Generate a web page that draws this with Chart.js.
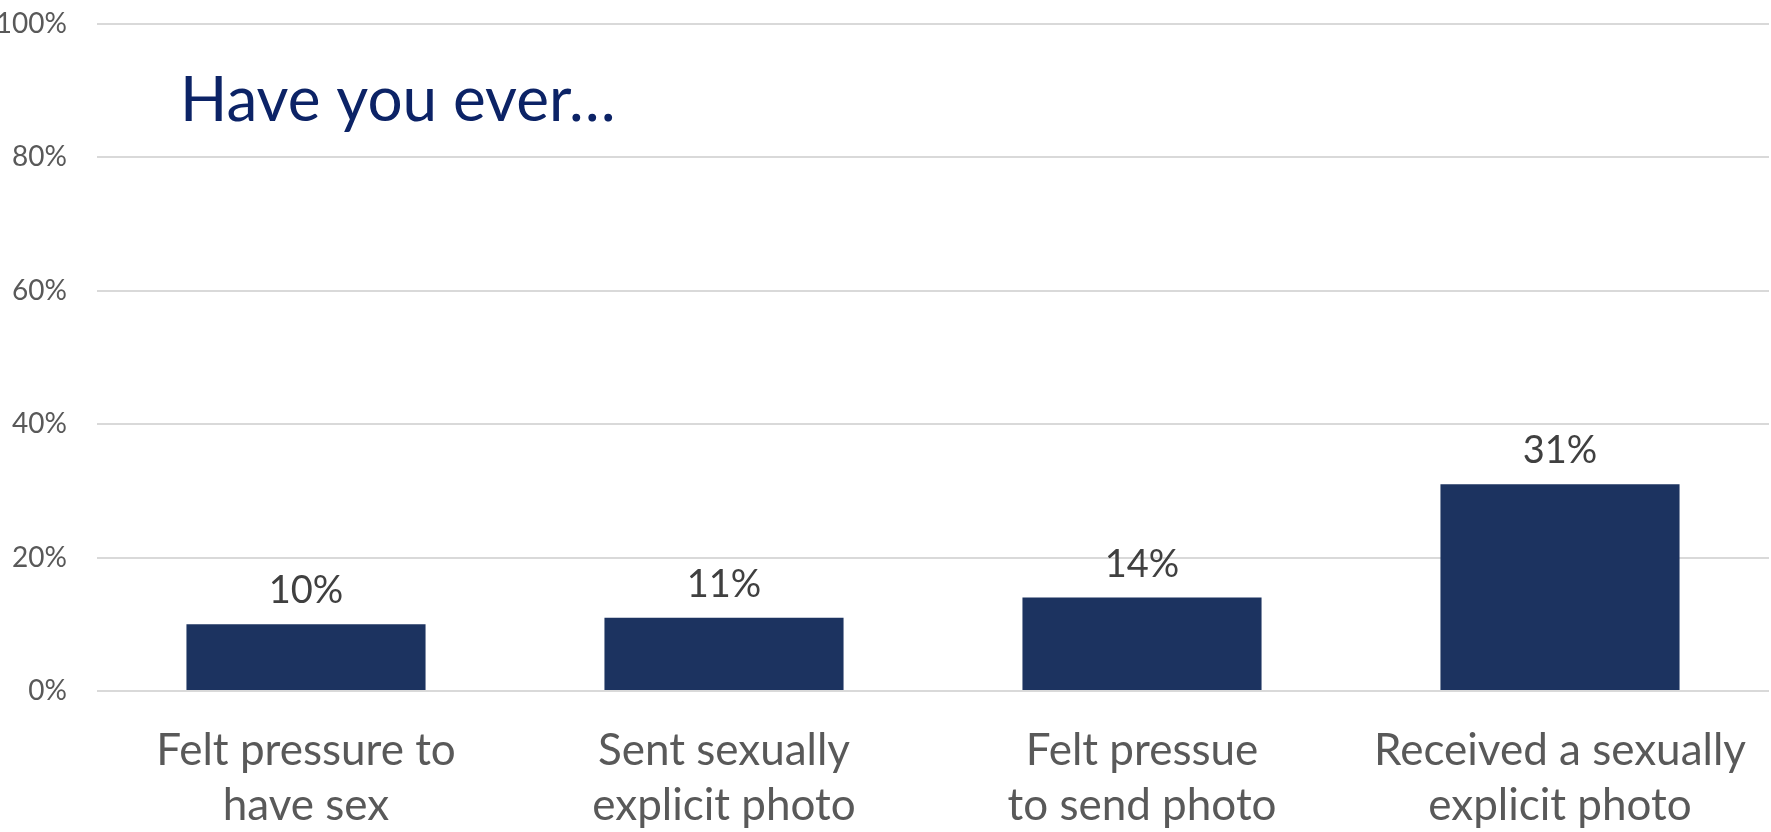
<!DOCTYPE html>
<html>
<head>
<meta charset="utf-8">
<script src="https://cdn.jsdelivr.net/npm/chart.js@4"></script>
<style>
  html, body { margin: 0; padding: 0; background: #fff; }
  #wrap { width: 1771px; height: 832px; }
</style>
</head>
<body>
<div id="wrap"><canvas id="bars" width="1771" height="832"></canvas></div>
<script>
const categories = [
  ['Felt pressure to', 'have sex'],
  ['Sent sexually', 'explicit photo'],
  ['Felt pressue', 'to send photo'],
  ['Received a sexually', 'explicit photo']
]
const shares = [10, 11, 14, 31]
const yTicks = [0, 20, 40, 60, 80, 100]
const heading = 'Have you ever\u2026'

const FONT = 'Lato, "Open Sans", sans-serif'

// value labels above each bar
const barLabels = {
  id: 'barLabels',
  afterDatasetsDraw(chart) {
    const ctx = chart.ctx
    const meta = chart.getDatasetMeta(0)
    ctx.save()
    ctx.font = '38px ' + FONT
    ctx.fillStyle = '#404040'
    ctx.textAlign = 'center'
    ctx.textBaseline = 'alphabetic'
    meta.data.forEach((bar, i) => {
      ctx.fillText(shares[i] + '%', bar.x, bar.y - 21)
    })
    ctx.restore()
  }
}

// heading sits inside the plot area, top left
const heading_ = {
  id: 'heading',
  afterDraw(chart) {
    const ctx = chart.ctx
    ctx.save()
    ctx.font = '62px ' + FONT
    ctx.fillStyle = '#0c2366'
    ctx.textAlign = 'left'
    ctx.textBaseline = 'alphabetic'
    ctx.fillText(heading, chart.chartArea.left + 83, 121)
    ctx.restore()
  }
}

new Chart(document.getElementById('bars'), {
  type: 'bar',
  data: {
    labels: categories,
    datasets: [{
      data: shares,
      backgroundColor: '#1c3360',
      borderWidth: 0,
      categoryPercentage: 0.572,
      barPercentage: 1
    }]
  },
  options: {
    responsive: false,
    animation: false,
    layout: { padding: { top: 24, right: 2, left: 0, bottom: 0 } },
    plugins: {
      legend: { display: false },
      tooltip: { enabled: false }
    },
    scales: {
      y: {
        min: 0,
        max: 100,
        afterBuildTicks: s => { s.ticks = yTicks.map(v => ({ value: v })) },
        afterFit: s => { s.width = 97; s.paddingTop = 0; s.paddingBottom = 0 },
        border: { display: false },
        grid: { color: '#d9d9d9', lineWidth: 2, drawTicks: false },
        ticks: {
          padding: 30,
          color: '#595959',
          font: { family: FONT, size: 28 },
          callback: v => v + '%'
        }
      },
      x: {
        afterFit: s => { s.height = 141; s.paddingLeft = 0; s.paddingRight = 0 },
        border: { display: false },
        grid: { display: false, drawTicks: false },
        ticks: {
          padding: 32,
          color: '#595959',
          maxRotation: 0,
          autoSkip: false,
          font: { family: FONT, size: 44, lineHeight: 1.25 }
        }
      }
    }
  },
  plugins: [barLabels, heading_]
})
</script>
</body>
</html>
